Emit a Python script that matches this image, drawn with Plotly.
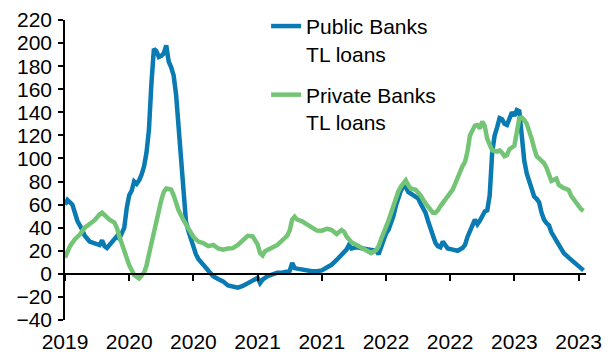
import plotly.graph_objects as go

# Weekly index (week 0 = first observation); ticks every 26 weeks
tick_weeks = [0, 26, 52, 78, 104, 130, 156, 182, 208]
tick_labels = ["2019", "2020", "2020", "2021", "2021", "2022", "2022", "2023", "2023"]

public_weeks = [0, 1, 3, 4, 5, 7, 8, 10, 12, 14, 15, 16, 17, 18, 20, 21, 22, 24, 25, 26,
                27, 28, 29, 30, 31, 32, 33, 34, 35, 36, 37, 38, 39, 40, 41, 42, 43, 44, 45, 46,
                47, 48, 49, 50, 51, 52, 53, 54, 56, 58, 60, 62, 64, 66, 68, 70, 72, 74, 76, 78,
                79, 80, 82, 84, 86, 88, 90, 91, 92, 93, 94, 96, 98, 100, 102, 104, 106, 108, 110, 112,
                114, 115, 116, 118, 120, 122, 124, 126, 127, 128, 129, 130, 131, 132, 133, 134, 135, 136, 137, 138,
                139, 141, 143, 144, 145, 146, 147, 148, 149, 150, 151, 152, 153, 154, 155, 157, 159, 161, 162, 163,
                164, 165, 166, 167, 168, 169, 170, 171, 172, 173, 174, 175, 176, 177, 178, 179, 180, 181, 182, 183,
                184, 185, 186, 187, 188, 189, 190, 191, 192, 193, 194, 195, 196, 197, 198, 199, 200, 202, 204, 206,
                208, 210]
public_vals = [60, 64, 60, 53, 46, 38, 33, 28, 26, 25, 29, 24, 22.5, 25, 30, 32.5, 30.5, 40, 57, 68,
               72, 80, 78, 81, 86, 93, 105, 125, 165, 195, 193, 188, 189, 191, 198, 184, 179, 172, 155, 130,
               100, 72, 45, 37, 30, 23, 17, 13, 8, 3, -2, -4.5, -6.5, -10, -11.5, -12, -10.5, -8.5, -6, -3.5,
               -8, -5, -2, 0, 1, 1, 2, 2.5, 9.5, 5, 4.5, 3.5, 2.5, 2.3, 2.3, 3, 5.5, 8, 12, 17,
               21, 25, 22, 23, 22.4, 22, 21, 20, 17, 24, 31, 35, 38, 43, 50, 59, 66, 72, 75.6, 75.6,
               71, 68, 65.5, 61, 57, 53, 46, 40, 33, 27, 24, 23, 28, 24, 22, 21, 20, 22.5, 25, 32,
               38, 42, 47, 43, 46, 51, 54, 55, 68, 105, 120, 127, 135, 134, 130, 129, 134, 140, 137, 142,
               141, 120, 98, 87, 80, 75, 67, 65, 62, 53, 47, 44, 42, 36, 32, 30, 25, 18, 14, 10.5,
               7, 3]

private_weeks = [0, 2, 4, 6, 8, 10, 12, 14, 15, 16, 18, 20, 21, 22, 24, 26, 28, 30, 32, 33,
                 34, 35, 36, 37, 38, 39, 40, 41, 42, 43, 44, 45, 46, 48, 50, 52, 54, 56, 58, 60,
                 62, 64, 66, 68, 70, 72, 74, 76, 77, 78, 79, 80, 81, 82, 84, 86, 88, 90, 91, 92,
                 93, 94, 96, 98, 100, 102, 104, 106, 107, 108, 110, 112, 113, 114, 116, 118, 120, 122, 124, 126,
                 127, 128, 129, 130, 131, 132, 133, 134, 135, 136, 137, 138, 139, 140, 142, 144, 146, 148, 149, 150,
                 151, 152, 154, 156, 157, 158, 159, 160, 161, 162, 163, 164, 165, 166, 167, 168, 169, 170, 171, 172,
                 173, 175, 176, 177, 178, 179, 180, 182, 183, 184, 185, 186, 187, 188, 189, 190, 191, 192, 194, 195,
                 196, 197, 198, 199, 200, 201, 202, 203, 204, 205, 206, 207, 208, 209, 210]
private_vals = [14, 24, 30, 34, 40, 43.5, 46.5, 51.5, 53, 51, 47, 44.5, 40, 32.5, 20, 7.5, -1, -4, 1, 7,
                17, 27, 35.5, 45, 56, 64, 71, 74, 73.5, 73, 68, 62, 55, 46.5, 40, 32, 28, 26.7, 24, 25,
                22, 21, 22, 22.3, 25, 29.5, 33, 32.5, 29.5, 25.5, 18, 16, 19.6, 21, 22.8, 25, 28.5, 33, 37.5, 47,
                49.5, 47, 45.6, 43, 39.5, 37.5, 37.4, 39, 38.6, 38, 34.5, 38, 36.5, 32.5, 27.5, 25, 22, 19.7, 18, 20.6,
                24, 30, 37, 40.7, 46, 52.5, 60.6, 67.5, 71.5, 75.5, 79, 81, 77, 74, 72.8, 68, 61, 55, 53, 53,
                55, 58.5, 64.5, 69, 73, 78, 83, 90, 93.5, 97, 106, 120, 125, 128.5, 129, 126, 132, 128, 117, 111,
                107, 106, 107, 105, 102, 103, 108, 111, 125, 135, 135.5, 133.5, 130, 124, 117, 109, 102, 100, 96, 92,
                87, 80.5, 81.5, 82.6, 77, 75, 74.3, 73.6, 72.5, 67.5, 64.5, 60.5, 58, 56, 54.5]

series_names = ["Public Banks<br>TL loans", "Private Banks<br>TL loans"]
series_colors = ["#0A7AB3", "#74C476"]

FONT = "Arial, Liberation Sans, sans-serif"

fig = go.Figure()
fig.add_trace(go.Scatter(x=public_weeks, y=public_vals, mode="lines", name=series_names[0],
                         legendgroup="a", line=dict(color=series_colors[0], width=4.5)))
fig.add_trace(go.Scatter(x=private_weeks, y=private_vals, mode="lines", name=series_names[1],
                         legendgroup="b", line=dict(color=series_colors[1], width=4.5)))
# helper trace so that the tick-only axis at y=0 is rendered
fig.add_trace(go.Scatter(x=[tick_weeks[0]], y=[None], xaxis="x2", yaxis="y",
                         showlegend=False, hoverinfo="skip", mode="lines"))

y_lo, y_hi = -40, 220
fig.update_layout(
    width=608, height=346,
    margin=dict(l=57, r=30, t=12, b=34, autoexpand=False),
    paper_bgcolor="white", plot_bgcolor="white",
    font=dict(family=FONT, size=21, color="black"),
    showlegend=True,
    legend=dict(x=0.386, y=1.047, xanchor="left", yanchor="top",
                bgcolor="rgba(0,0,0,0)", font=dict(size=21, family=FONT),
                tracegroupgap=11, valign="top"),
    xaxis=dict(range=[0, 211], tickvals=tick_weeks, ticktext=tick_labels,
               showgrid=False, zeroline=False, showline=False, ticks="",
               ticklabelstandoff=7, ticklabeloverflow="allow",
               tickfont=dict(size=21, family=FONT)),
    xaxis2=dict(range=[0, 211], overlaying="x", anchor="free",
                position=(0 - y_lo) / (y_hi - y_lo),
                tickvals=tick_weeks, showticklabels=False, ticks="outside",
                ticklen=6, tickwidth=1.5, tickcolor="black",
                showline=True, linecolor="black", linewidth=1.5,
                showgrid=False, zeroline=False),
    yaxis=dict(range=[y_lo, y_hi], dtick=20, tick0=0, showgrid=False, zeroline=False,
               showline=True, linecolor="black", linewidth=1.5,
               ticks="outside", ticklen=5, tickwidth=1.5, tickcolor="black",
               ticklabelstandoff=2, ticklabeloverflow="allow",
               tickfont=dict(size=21, family=FONT)),
)

fig.write_html("out.html")
